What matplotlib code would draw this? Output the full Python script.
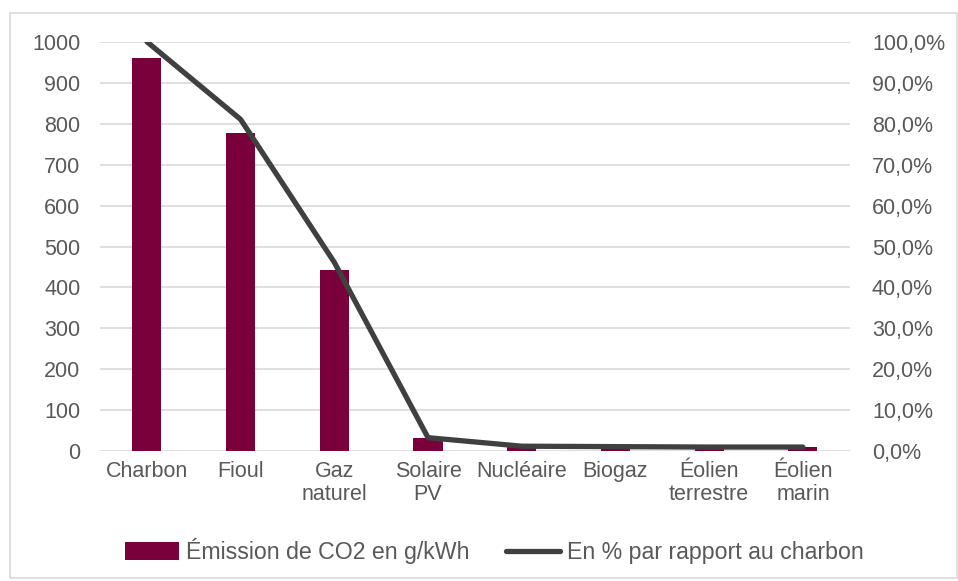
import matplotlib.pyplot as plt
from matplotlib.patches import Rectangle
from matplotlib.ticker import FuncFormatter, MultipleLocator

plt.rcParams["font.family"] = ["Liberation Sans", "DejaVu Sans"]

categories = ["Charbon", "Fioul", "Gaz\nnaturel", "Solaire\nPV", "Nucléaire",
              "Biogaz", "Éolien\nterrestre", "Éolien\nmarin"]
emissions = [960, 778, 443, 32, 12, 11, 10, 10]  # g CO2 / kWh
share_of_coal = [v / emissions[0] * 100 for v in emissions]

BAR_COLOR = "#7a003c"
LINE_COLOR = "#404040"
TEXT_COLOR = "#595959"
GRID_COLOR = "#d9d9d9"
FONT_SIZE = 15.5

fig = plt.figure(figsize=(9.58, 5.81), dpi=100)
ax = fig.add_axes([0.1044, 0.2232, 0.7826, 0.705])
ax2 = ax.twinx()

x = list(range(len(categories)))
ax.bar(x, emissions, width=0.31, color=BAR_COLOR, zorder=2,
       label="Émission de CO2 en g/kWh")
ax2.plot(x, share_of_coal, color=LINE_COLOR, linewidth=3.8,
         solid_capstyle="round", solid_joinstyle="round",
         label="En % par rapport au charbon")

ax.set_xlim(-0.5, len(categories) - 0.5)
ax.set_ylim(0, 1000)
ax2.set_ylim(0, 100)
ax.yaxis.set_major_locator(MultipleLocator(100))
ax2.yaxis.set_major_locator(MultipleLocator(10))
ax2.yaxis.set_major_formatter(
    FuncFormatter(lambda v, _: f"{v:.1f}".replace(".", ",") + "%"))

ax.set_xticks(x)
ax.set_xticklabels(categories, linespacing=1.12)
ax.grid(axis="y", color=GRID_COLOR, linewidth=1.2, zorder=0)
ax.set_axisbelow(True)

for a in (ax, ax2):
    for side in a.spines.values():
        side.set_visible(False)
    a.tick_params(length=0, labelsize=FONT_SIZE, colors=TEXT_COLOR)
ax.tick_params(axis="y", pad=14)
ax2.tick_params(axis="y", pad=16)
ax.tick_params(axis="x", pad=7)

handles = ax.get_legend_handles_labels()[0] + ax2.get_legend_handles_labels()[0]
labels = [h.get_label() for h in handles]
fig.legend(handles, labels, loc="center", bbox_to_anchor=(0.516, 0.051),
           ncol=2, frameon=False, fontsize=16.7, labelcolor=TEXT_COLOR,
           handlelength=2.3, handleheight=0.8, handletextpad=0.3,
           columnspacing=1.6)

# outer chart frame
fig.patches.append(Rectangle((9.5 / 958, 3 / 581), 947 / 958, 565.5 / 581,
                             transform=fig.transFigure, fill=False,
                             edgecolor=GRID_COLOR, linewidth=1.2))

fig.savefig("out.png", dpi=100)
